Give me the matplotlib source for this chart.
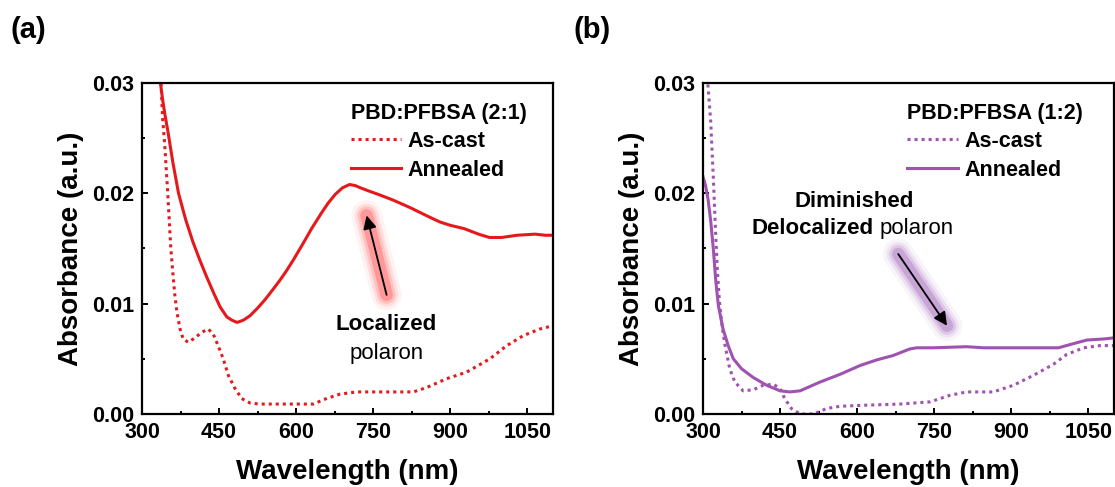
import matplotlib
matplotlib.use("Agg")
import matplotlib.pyplot as plt
from matplotlib.ticker import MultipleLocator, FormatStrFormatter
import matplotlib.transforms as mtransforms

plt.rcParams['font.family'] = ['Liberation Sans', 'DejaVu Sans']

# ---------------- data ----------------
a_anneal_wl = [335, 340, 345, 350, 360, 371, 385, 399, 412, 426, 440, 452, 465, 475, 485, 497, 510,
               525, 540, 555, 568, 580, 595, 614, 630, 649, 662, 676, 690, 704, 715, 725, 742,
               760, 788, 822, 857, 880, 900, 927, 955, 976, 1000, 1030, 1065, 1085, 1100]
a_anneal_abs = [0.0303, 0.0285, 0.0270, 0.0257, 0.0228, 0.0200, 0.0176, 0.0156, 0.0140, 0.0124,
                0.0109, 0.0097, 0.0088, 0.0085, 0.0083, 0.0085, 0.0089, 0.0096, 0.0104, 0.0113,
                0.0121, 0.0129, 0.0140, 0.0155, 0.0168, 0.0182, 0.0191, 0.0199, 0.0205, 0.0208,
                0.0207, 0.0205, 0.0202, 0.0199, 0.0194, 0.0187, 0.0179, 0.0174, 0.0171, 0.0168,
                0.0163, 0.0160, 0.0160, 0.0162, 0.0163, 0.0162, 0.0162]

a_cast_wl = [337, 340, 344, 350, 356, 361, 364, 368, 374, 380, 390, 403, 416, 429, 439, 448, 458,
             468, 481, 494, 510, 529, 588, 633, 659, 685, 718, 750, 828, 854, 893, 932, 977,
             1010, 1042, 1074, 1100]
a_cast_abs = [0.0300, 0.0268, 0.0245, 0.0200, 0.0150, 0.0122, 0.0107, 0.0092, 0.0077, 0.0068,
              0.0065, 0.0069, 0.0074, 0.0077, 0.0072, 0.0062, 0.0050, 0.0035, 0.0023, 0.0014,
              0.0010, 0.0009, 0.0009, 0.0009, 0.0014, 0.0018, 0.0020, 0.0020, 0.0020, 0.0024,
              0.0032, 0.0038, 0.0050, 0.0062, 0.0071, 0.0077, 0.0080]

b_anneal_wl = [300, 305, 310, 315, 320, 325, 330, 339, 349, 359, 375, 398, 424, 450, 469, 489,
               528, 567, 606, 638, 670, 703, 716, 748, 813, 846, 911, 992, 1015, 1047, 1080, 1100]
b_anneal_abs = [0.0215, 0.0207, 0.0194, 0.0175, 0.0150, 0.0120, 0.0098, 0.0077, 0.0062, 0.0050,
                0.0041, 0.0033, 0.0026, 0.0021, 0.0020, 0.0021, 0.0029, 0.0036, 0.0044, 0.0049,
                0.0053, 0.0059, 0.0060, 0.0060, 0.0061, 0.0060, 0.0060, 0.0060, 0.0063, 0.0067,
                0.0068, 0.0069]

b_cast_wl = [308, 310, 315, 320, 324, 328, 332, 337, 343, 352, 362, 378, 398, 417, 437, 450, 459,
             472, 489, 515, 541, 567, 618, 683, 742, 781, 813, 865, 904, 943, 982, 1008, 1041,
             1073, 1100]
b_cast_abs = [0.0305, 0.0296, 0.0265, 0.0215, 0.0170, 0.0130, 0.0102, 0.0080, 0.0062, 0.0041,
              0.0029, 0.0021, 0.0022, 0.0026, 0.0027, 0.0023, 0.0014, 0.0005, 0.0000, 0.0000,
              0.0005, 0.0007, 0.0008, 0.0009, 0.0011, 0.0017, 0.0020, 0.0020, 0.0026, 0.0035,
              0.0045, 0.0054, 0.0060, 0.0062, 0.0062]

x_ticks = [300, 450, 600, 750, 900, 1050]
y_ticks = [0.00, 0.01, 0.02, 0.03]

# annotation anchor points (wavelength, absorbance)
a_arrow_tail = (776, 0.0108)
a_arrow_head = (737, 0.0180)
b_arrow_tail = (680, 0.0145)
b_arrow_head = (775, 0.0080)

RED = '#E5191C'
PURPLE = '#A052B0'

fig = plt.figure(figsize=(11.15, 4.87), dpi=100)
ax_a = fig.add_axes([0.1274, 0.1499, 0.3686, 0.6797])
ax_b = fig.add_axes([0.6305, 0.1499, 0.3686, 0.6797])

LW = 2.2
DOT = (0, (1, 1.3))


def style(ax):
    ax.set_xlim(300, 1100)
    ax.set_ylim(0, 0.03)
    ax.set_xticks(x_ticks)
    ax.set_yticks(y_ticks)
    ax.xaxis.set_minor_locator(MultipleLocator(75))
    ax.yaxis.set_minor_locator(MultipleLocator(0.005))
    ax.yaxis.set_major_formatter(FormatStrFormatter('%.2f'))
    ax.tick_params(which='both', direction='in', top=False, right=False, width=1.4)
    ax.tick_params(which='major', length=4, pad=5.5, labelsize=15.5)
    ax.tick_params(which='minor', length=2.2)
    for lab in ax.get_xticklabels() + ax.get_yticklabels():
        lab.set_fontweight('bold')
    for sp in ax.spines.values():
        sp.set_linewidth(1.6)
    ax.set_xlabel('Wavelength (nm)', fontsize=20, fontweight='bold', labelpad=12)
    ax.set_ylabel('Absorbance (a.u.)', fontsize=20, fontweight='bold', labelpad=6)


def glow(ax, tail, head, color):
    for w, al in [(22, 0.06), (17, 0.10), (13, 0.16), (9, 0.26)]:
        ax.plot([tail[0], head[0]], [tail[1], head[1]], color=color, lw=w, alpha=al,
                solid_capstyle='round', zorder=3)
    ax.annotate('', xy=head, xytext=tail,
                arrowprops=dict(arrowstyle='-|>', color='black', lw=1.3,
                                mutation_scale=20, shrinkA=0, shrinkB=0), zorder=4)


def legend(ax, title, x):
    leg = ax.legend(title=title, loc='upper left', bbox_to_anchor=(x, 0.94),
                    frameon=False, fontsize=15.5,
                    title_fontproperties={'weight': 'bold', 'size': 15.5},
                    handlelength=2.35, handletextpad=0.3, labelspacing=0.38, borderpad=0,
                    borderaxespad=0, alignment='left')
    leg._legend_box.sep = 5
    for t in leg.get_texts():
        t.set_fontweight('bold')


# ---------------- panel (a) ----------------
ax = ax_a
ax.plot(a_cast_wl, a_cast_abs, color=RED, lw=LW, linestyle=DOT, dash_capstyle='butt', label='As-cast')
ax.plot(a_anneal_wl, a_anneal_abs, color=RED, lw=LW, label='Annealed')
style(ax)
glow(ax, a_arrow_tail, a_arrow_head, '#FF2A2A')
ax.text(776, 0.0081, 'Localized', fontsize=16, fontweight='bold', ha='center', va='center')
ax.text(776, 0.0055, 'polaron', fontsize=16, ha='center', va='center')
legend(ax, 'PBD:PFBSA (2:1)', 0.508)

# ---------------- panel (b) ----------------
ax = ax_b
ax.plot(b_cast_wl, b_cast_abs, color=PURPLE, lw=LW, linestyle=DOT, dash_capstyle='butt', label='As-cast')
ax.plot(b_anneal_wl, b_anneal_abs, color=PURPLE, lw=LW, label='Annealed')
style(ax)
glow(ax, b_arrow_tail, b_arrow_head, '#8E44AD')
ax.text(595, 0.0193, 'Diminished', fontsize=16, fontweight='bold', ha='center', va='center')
ax.text(633, 0.0168, 'Delocalized', fontsize=16, fontweight='bold', ha='right', va='center')
off = mtransforms.offset_copy(ax.transData, fig=fig, x=4, y=0, units='points')
ax.text(633, 0.0168, 'polaron', fontsize=16, ha='left', va='center', transform=off)
legend(ax, 'PBD:PFBSA (1:2)', 0.497)

fig.text(28 / 1115, 1 - 30 / 487, '(a)', fontsize=21, fontweight='bold', ha='center', va='center')
fig.text(592 / 1115, 1 - 30 / 487, '(b)', fontsize=21, fontweight='bold', ha='center', va='center')

fig.savefig('out.png', dpi=100)
